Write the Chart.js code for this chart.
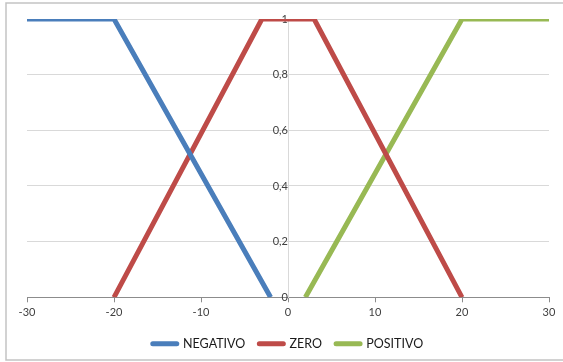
<!DOCTYPE html>
<html>
<head>
<meta charset="utf-8">
<script src="https://cdn.jsdelivr.net/npm/chart.js@4/dist/chart.umd.min.js"></script>
<style>
  html, body { margin: 0; padding: 0; background: #ffffff; }
  #wrap { width: 563px; height: 362px; position: relative; }
</style>
</head>
<body>
<div id="wrap"><canvas id="c" width="563" height="362"></canvas></div>
<script>
// Membership functions of the fuzzy sets (x = input, y = degree of membership)
const negativoX = [-30, -20, -2];
const negativoY = [1, 1, 0];
const zeroX = [-20, -3, 3, 20];
const zeroY = [0, 1, 1, 0];
const positivoX = [2, 20, 30];
const positivoY = [0, 1, 1];

const seriesNames = ['NEGATIVO', 'ZERO', 'POSITIVO'];
const xTickValues = [-30, -20, -10, 0, 10, 20, 30];
const xTickLabels = ['-30', '-20', '-10', '0', '10', '20', '30'];
const yTickValues = [0, 0.2, 0.4, 0.6, 0.8, 1];
const yTickLabels = ['0', '0,2', '0,4', '0,6', '0,8', '1'];

const colors = ['#4a7ebb', '#be4b48', '#98b954'];

function toPoints(xs, ys) {
  return xs.map((x, i) => ({ x: x, y: ys[i] }));
}

const seriesData = [
  toPoints(negativoX, negativoY),
  toPoints(zeroX, zeroY),
  toPoints(positivoX, positivoY)
];

function labelFor(values, labels, v) {
  const i = values.findIndex(t => Math.abs(t - v) < 1e-9);
  return i >= 0 ? labels[i] : '';
}

// Light frame around the whole chart
const framePlugin = {
  id: 'frame',
  beforeDraw(chart) {
    const ctx = chart.ctx;
    ctx.save();
    ctx.strokeStyle = '#c3c3c3';
    ctx.lineWidth = 1.5;
    ctx.strokeRect(6, 3, 570, 357);
    ctx.restore();
  }
};

const textFont = "Lato, 'Open Sans', 'Liberation Sans', sans-serif";

new Chart(document.getElementById('c'), {
  type: 'line',
  data: {
    datasets: seriesNames.map((name, i) => ({
      label: name,
      data: seriesData[i],
      borderColor: colors[i],
      backgroundColor: colors[i],
      borderWidth: 5,
      pointRadius: 0,
      pointHoverRadius: 0,
      tension: 0,
      fill: false
    }))
  },
  options: {
    responsive: false,
    animation: false,
    events: [],
    layout: { padding: { left: 27, right: 14, top: 19, bottom: 2 } },
    plugins: {
      tooltip: { enabled: false },
      legend: {
        display: true,
        position: 'bottom',
        labels: {
          usePointStyle: true,
          pointStyle: 'line',
          pointStyleWidth: 24,
          padding: 14,
          color: '#1a1a1a',
          font: { family: textFont, size: 12.5 },
          generateLabels(chart) {
            return chart.data.datasets.map((ds, i) => ({
              text: ds.label,
              fillStyle: ds.borderColor,
              strokeStyle: ds.borderColor,
              lineWidth: 5,
              lineCap: 'round',
              pointStyle: 'line',
              hidden: false,
              datasetIndex: i,
              fontColor: '#1a1a1a'
            }));
          }
        }
      }
    },
    scales: {
      x: {
        type: 'linear',
        position: 'bottom',
        min: -30,
        max: 30,
        afterBuildTicks(scale) {
          scale.ticks = xTickValues.map(v => ({ value: v }));
        },
        ticks: {
          color: '#404040',
          font: { family: textFont, size: 11 },
          padding: 4,
          maxRotation: 0,
          callback: v => labelFor(xTickValues, xTickLabels, v)
        },
        grid: {
          drawOnChartArea: false,
          drawTicks: true,
          tickLength: 5,
          color: '#8c8c8c'
        },
        border: { display: true, color: '#8c8c8c', width: 1 }
      },
      y: {
        type: 'linear',
        position: { x: 0 },
        min: 0,
        max: 1,
        afterBuildTicks(scale) {
          scale.ticks = yTickValues.map(v => ({ value: v }));
        },
        ticks: {
          color: '#404040',
          font: { family: textFont, size: 11 },
          padding: 10,
          callback: v => labelFor(yTickValues, yTickLabels, v)
        },
        grid: {
          drawTicks: false,
          color: '#d9d9d9',
          lineWidth: 1
        },
        border: { display: true, color: '#d9d9d9', width: 1 }
      }
    }
  },
  plugins: [framePlugin]
});
</script>
</body>
</html>
